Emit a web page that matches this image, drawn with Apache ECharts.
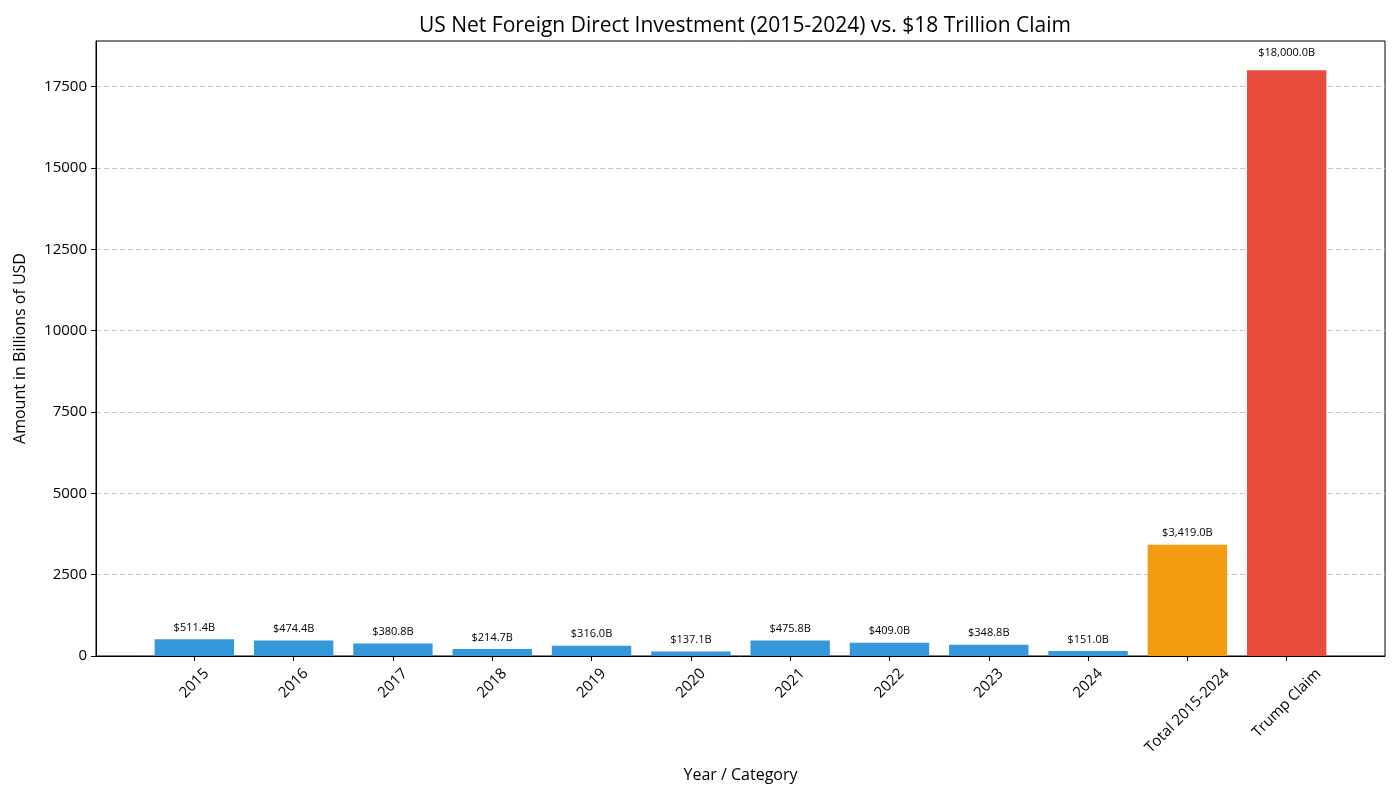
<!DOCTYPE html>
<html>
<head>
<meta charset="UTF-8">
<title>US Net FDI vs Claim</title>
<script src="https://cdn.jsdelivr.net/npm/echarts@6/dist/echarts.min.js"></script>
<style>
  html, body { margin: 0; padding: 0; background: #fff; }
  #chart { width: 1400px; height: 800px; }
</style>
</head>
<body>
<div id="chart"></div>
<script>
// data (billions of USD)
var categories = ['2015', '2016', '2017', '2018', '2019', '2020', '2021', '2022', '2023', '2024', 'Total 2015-2024', 'Trump Claim'];
var amounts = [511.4, 474.4, 380.8, 214.7, 316.0, 137.1, 475.8, 409.0, 348.8, 151.0, 3419.0, 18000.0];
var barColors = ['#3498db', '#3498db', '#3498db', '#3498db', '#3498db', '#3498db', '#3498db', '#3498db', '#3498db', '#3498db', '#f39c12', '#e74c3c'];
var yTicks = [0, 2500, 5000, 7500, 10000, 12500, 15000, 17500];

var FONT = '"Open Sans", "DejaVu Sans", sans-serif';
var TICK_FS = 15;

// measure label widths so the rotated labels sit centred under their ticks
var ctx = document.createElement('canvas').getContext('2d');
ctx.font = TICK_FS + 'px ' + FONT;
var rich = {};
var positions = [];
categories.forEach(function (c, i) {
  positions.push(i);
  var w = ctx.measureText(c).width;
  var d = 0.354 * (w + 18);
  var p = Math.round(1.414 * d);
  rich['c' + i] = { fontSize: TICK_FS, fontFamily: FONT, color: '#000', padding: [p, p, 0, 0] };
});

var last = amounts.length - 1;
var barData = amounts.map(function (v, i) {
  var item = { value: [i, v], itemStyle: { color: barColors[i] } };
  if (i === last) item.label = { distance: 12 };  // the claim label sits a bit higher
  return item;
});

function money(v) {
  var s = v.toFixed(1).split('.');
  return '$' + s[0].replace(/\B(?=(\d{3})+(?!\d))/g, ',') + '.' + s[1] + 'B';
}

var myChart = echarts.init(document.getElementById('chart'));
myChart.setOption({
  backgroundColor: '#fff',
  animation: false,
  textStyle: { fontFamily: FONT },
  title: {
    text: 'US Net Foreign Direct Investment (2015-2024) vs. $18 Trillion Claim',
    left: 740,
    textAlign: 'center',
    top: 11,
    textStyle: { fontSize: 21, fontWeight: 'normal', color: '#000', fontFamily: FONT }
  },
  grid: {
    left: 96, right: 15, top: 41, bottom: 144,
    show: true, borderColor: '#000', borderWidth: 1,
    outerBoundsMode: 'none'
  },
  xAxis: {
    type: 'value',
    min: -0.99,
    max: 11.99,
    name: 'Year / Category',
    nameLocation: 'middle',
    nameGap: 111,
    nameTextStyle: { fontSize: 16, color: '#000', fontFamily: FONT },
    axisLine: { show: true, onZero: false, lineStyle: { color: '#000', width: 1 } },
    axisTick: { show: true, customValues: positions, length: 5, lineStyle: { color: '#000' } },
    axisLabel: {
      customValues: positions,
      rotate: 45,
      align: 'center',
      verticalAlign: 'middle',
      margin: 9,
      fontSize: TICK_FS,
      color: '#000',
      formatter: function (v) {
        var i = Math.round(v);
        return '{c' + i + '|' + categories[i] + '}';
      },
      rich: rich
    },
    splitLine: { show: false }
  },
  yAxis: {
    type: 'value',
    min: 0,
    max: 18900,
    interval: 2500,
    name: 'Amount in Billions of USD',
    nameLocation: 'middle',
    nameGap: 68,
    nameTextStyle: { fontSize: 16, color: '#000', fontFamily: FONT },
    axisLine: { show: true, onZero: false, lineStyle: { color: '#000', width: 1 } },
    axisTick: { show: true, customValues: yTicks, length: 5, lineStyle: { color: '#000' } },
    axisLabel: {
      customValues: yTicks,
      fontSize: TICK_FS,
      color: '#000',
      margin: 9,
      formatter: function (v) { return String(v); }
    },
    splitLine: { show: true, lineStyle: { color: '#c8c8c8', type: [5, 3], width: 1 } }
  },
  series: [{
    type: 'bar',
    data: barData,
    barWidth: 79.4,
    label: {
      show: true,
      position: 'top',
      distance: 6,
      fontSize: 11,
      color: '#000',
      fontFamily: FONT,
      formatter: function (p) { return money(p.value[1]); }
    }
  }]
});
</script>
</body>
</html>
